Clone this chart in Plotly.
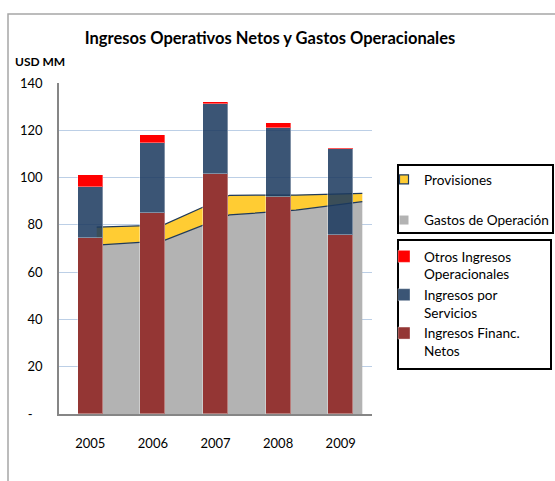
import plotly.graph_objects as go

years = ['2005', '2006', '2007', '2008', '2009']
ing_financ = [74.3, 84.9, 101.5, 91.7, 75.7]
ing_servicios = [21.9, 29.6, 29.8, 29.1, 36.3]
otros_ingresos = [4.8, 3.5, 0.5, 2.2, 0.5]
gastos_operacion = [71.4, 73.2, 84.2, 86.2, 89.8]
provisiones = [7.6, 6.7, 8.3, 6.4, 3.5]
y_ticks = [0, 20, 40, 60, 80, 100, 120, 140]
y_ticktext = ['-\u00a0\u00a0\u00a0', '20', '40', '60', '80', '100', '120', '140']

FONT = 'Lato'
NAVY = '#1f3a5c'
W, H = 555, 481
L, R, T, B = 59, 372, 83, 414


def px(x):
    return (x - L) / (R - L)


def py(y):
    return (B - y) / (B - T)


fig = go.Figure()

# Stacked area (on primary x axis, drawn beneath the bars)
fig.add_trace(go.Scatter(x=years, y=gastos_operacion, stackgroup='a', mode='lines',
                         line=dict(width=0), fillcolor='#b3b3b3', showlegend=False,
                         xaxis='x', yaxis='y', hoverinfo='skip'))
fig.add_trace(go.Scatter(x=years, y=provisiones, stackgroup='a', mode='lines',
                         line=dict(width=1.2, color=NAVY), fillcolor='#ffcc33', showlegend=False,
                         xaxis='x', yaxis='y', hoverinfo='skip'))
fig.add_trace(go.Scatter(x=years, y=gastos_operacion, mode='lines',
                         line=dict(width=1.2, color=NAVY), showlegend=False,
                         xaxis='x', yaxis='y', hoverinfo='skip'))

# Legend entries for the area series
fig.add_trace(go.Scatter(x=[None], y=[None], mode='markers', name='Provisiones',
                         marker=dict(symbol='square', size=9, color='#ffcc33',
                                     line=dict(color=NAVY, width=1.2)),
                         legend='legend', legendgroup='p'))
fig.add_trace(go.Scatter(x=[None], y=[None], mode='markers', name='Gastos de Operación',
                         marker=dict(symbol='square', size=9, color='#b3b3b3'),
                         legend='legend', legendgroup='g'))

# Stacked bars (overlay axis, drawn on top)
bar_line = dict(color='rgba(255,255,255,0.35)', width=1)
fig.add_trace(go.Bar(x=years, y=ing_financ, name='Ingresos Financ.<br>Netos',
                     marker=dict(color='#943634', line=bar_line), width=0.4,
                     xaxis='x2', yaxis='y', legend='legend2'))
fig.add_trace(go.Bar(x=years, y=ing_servicios, name='Ingresos por<br>Servicios',
                     marker=dict(color='rgba(27,57,94,0.86)', line=bar_line), width=0.4,
                     xaxis='x2', yaxis='y', legend='legend2'))
fig.add_trace(go.Bar(x=years, y=otros_ingresos, name='Otros Ingresos<br>Operacionales',
                     marker=dict(color='#ff0000', line=bar_line), width=0.4,
                     xaxis='x2', yaxis='y', legend='legend2'))

shapes = [
    # outer chart frame
    dict(type='rect', xref='paper', yref='paper', x0=px(8), x1=px(600), y0=py(520), y1=py(14),
         line=dict(color='#a6a6a6', width=1.5), layer='below'),
    # legend boxes
    dict(type='rect', xref='paper', yref='paper', x0=px(398), x1=px(553), y0=py(233), y1=py(165),
         line=dict(color='black', width=2)),
    dict(type='rect', xref='paper', yref='paper', x0=px(398), x1=px(551), y0=py(369), y1=py(240),
         line=dict(color='black', width=2)),
]

fig.update_layout(
    width=W, height=H,
    margin=dict(l=L, r=W - R, t=T, b=H - B, autoexpand=False),
    paper_bgcolor='white', plot_bgcolor='white',
    font=dict(family=FONT, size=13, color='black'),
    barmode='stack', bargap=0,
    title=dict(text='<b>Ingresos Operativos Netos y Gastos Operacionales</b>',
               x=270 / W, xanchor='center', y=1 - 38 / H, yanchor='middle',
               font=dict(family=FONT, size=16.5, color='black')),
    xaxis=dict(type='category', range=[-0.568, 4.146], showticklabels=False,
               showgrid=False, zeroline=False, showline=False),
    xaxis2=dict(type='category', range=[-0.5, 4.5], overlaying='x', side='bottom', anchor='y',
                showgrid=False, zeroline=False, showline=True, linecolor='#868686', linewidth=1.5,
                ticks='', ticklabelstandoff=17, tickfont=dict(family=FONT, size=13)),
    yaxis=dict(range=[0, 140], tickvals=y_ticks, ticktext=y_ticktext,
               showgrid=True, gridcolor='#bccfe6', gridwidth=1, zeroline=False,
               showline=True, linecolor='#868686', linewidth=1.5, ticks='',
               ticklabelstandoff=12, tickfont=dict(family=FONT, size=13)),
    legend=dict(x=px(384), y=py(164), xanchor='left', yanchor='top', bgcolor='rgba(0,0,0,0)',
                borderwidth=0, traceorder='grouped', tracegroupgap=20,
                font=dict(family=FONT, size=13.6), itemclick=False),
    legend2=dict(x=px(384), y=py(241), xanchor='left', yanchor='top', bgcolor='rgba(0,0,0,0)',
                 borderwidth=0, traceorder='reversed', valign='top',
                 font=dict(family=FONT, size=13.6), itemclick=False),
    shapes=shapes,
    annotations=[dict(text='<b>USD MM</b>', xref='paper', yref='paper', x=px(13), y=py(62),
                      xanchor='left', yanchor='middle', showarrow=False,
                      font=dict(family=FONT, size=12, color='black'))],
    showlegend=True,
)

fig.write_html('out.html', config={'displayModeBar': False},
               post_script="document.body.style.margin='0';")
